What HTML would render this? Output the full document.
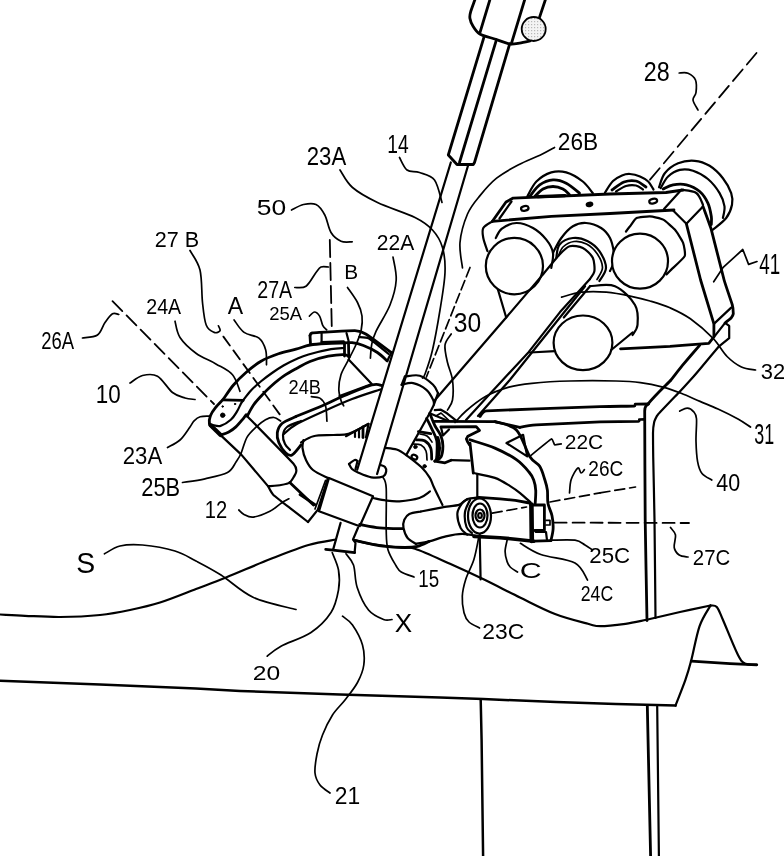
<!DOCTYPE html>
<html lang="en">
<head>
<meta charset="utf-8">
<title>Patent figure</title>
<style>
html,body{margin:0;padding:0;background:#fff;}
body{width:784px;height:856px;overflow:hidden;}
svg{display:block;filter:grayscale(1);}
path,ellipse,circle{fill:none;stroke:#000;stroke-linecap:round;stroke-linejoin:round;}
.l{stroke-width:2.2;}
.t{stroke-width:1.7;}
.h{stroke-width:2.8;}
.w{fill:#fff;stroke-width:2.2;}
text{font-family:"Liberation Sans","DejaVu Sans",sans-serif;fill:#000;stroke:none;}
</style>
</head>
<body>
<svg width="784" height="856" viewBox="0 0 784 856">
<rect width="784" height="856" fill="#fff" stroke="none"/>
<path class="l" d="M0 614.5 C4.2 614.7 15 615.4 25 615.8 C35 616.2 47.5 617.1 60 617 C72.5 616.9 88.3 616.2 100 615 C111.7 613.8 120 612.1 130 610 C140 607.9 149 606 160 602.5 C171 599 185 593.2 196 589 C207 584.8 213.5 582.5 226 577.5 C238.5 572.5 257.2 564.2 271 558.8 C284.8 553.4 297.7 548.2 308.5 545 C319.3 541.8 331.4 540.4 336 539.5"/>
<path class="l" d="M354 540 C356.7 540.6 362.3 542.5 370 543.8 C377.7 545 392.5 546.7 400 547.5 C407.5 548.3 406.7 546.1 415 548.8 C423.3 551.5 438.8 558.8 450 563.8 C461.2 568.8 470.8 573.2 482.5 578.8 C494.2 584.4 507.9 591.6 520 597.5 C532.1 603.4 543.7 609.6 555 614 C566.3 618.4 580.4 621.8 588 623.8 C595.6 625.8 594.2 626.2 600.5 626.2 C606.8 626.2 618 624.8 625.5 623.8 C633 622.8 642.2 620.6 645.5 620"/>
<path class="l" d="M645.5 620 C651.2 618.7 669.2 614.4 680 612 C690.8 609.6 705.4 606.6 710.5 605.5"/>
<path class="l" d="M710.5 605.5 C711.5 605.8 714.7 604.6 716.8 607 C718.9 609.4 719.5 612 723 620 C726.5 628 734.2 647.7 738 655 C741.8 662.3 742.4 662.2 745.5 663.8 C748.6 665.4 754.9 664.4 756.8 664.5"/>
<path d="M0 680.7 L100 684.5 L196 688.5 L240 691 L340 694.6 L440 697.6 L483.1 699.1 L556.1 702.1 L615.8 704.1 L675.5 705.6" style="stroke-width:2.5"/>
<path class="l" d="M710.5 605.5 C708.7 609 702.7 617.1 699.5 626.3 C696.3 635.5 693.6 651.6 691.2 660.5 C688.9 669.4 688 672.4 685.4 679.9 C682.8 687.4 677.1 701.3 675.5 705.6"/>
<path class="h" d="M691.2 661.2 L730 663.6 L756.8 664.8"/>
<path d="M480.7 699.8 L481.6 740 L483.1 856" style="stroke-width:2.5"/>
<path class="h" d="M647.3 705.4 L648.5 760 L650.6 856"/>
<path class="l" d="M657.2 706.4 L658.9 856"/>
<path class="h" d="M699.6 345.3 C698.7 346.3 683.6 364 682.2 365.7 C680.8 367.4 671.9 378.9 671 380 C670.1 381.1 665.1 385.9 663.9 387.1 C662.7 388.3 648.6 403.3 647.6 404.5 C646.6 405.7 644.8 405.2 644.7 411 C644.6 416.8 645.1 509.5 645.2 520 C645.3 530.5 646.9 615.5 647 620.5"/>
<path class="l" d="M719 346.3 C718.2 347.3 704.1 364 702.7 365.7 C701.3 367.4 691.6 378.7 690.4 380 C689.2 381.3 680.8 390.5 679.2 392.2 C677.6 393.9 659 413.2 657.8 414.7 C656.5 416.2 654.4 421.1 654.2 422 C654 422.9 653 431.3 653 433 C653 434.7 653.1 452.1 653.2 456.5 C653.3 460.9 654.4 511.9 654.5 520 C654.6 528.1 655.5 613.1 655.5 618"/>
<path class="h" d="M474.8 0 C474.3 1.5 471.4 9.2 470.7 11.6 C470 14 469.6 16.2 469.9 18.2 C470.2 20.2 471.9 24.4 473.2 26.5 C474.5 28.6 476.9 32.3 479.8 34 C482.7 35.7 490.7 37.7 494.7 39 C498.7 40.3 506.4 43.4 509.7 43.9 C513 44.4 516.9 43.5 519.6 43.1 C522.3 42.7 528.6 41.3 530 41"/>
<path class="h" d="M489.8 0 L479.8 33.2"/>
<path class="h" d="M524.6 0 L511.3 43.9"/>
<path class="h" d="M545.3 0 L539.5 17.4"/>
<path class="h" d="M483.9 37.3 L448.3 155 L457 164.5 L473.3 164.5 L474.5 162.5 L509.7 43.9"/>
<path class="h" d="M496.4 39.8 L459.5 162.5"/>
<defs><pattern id="st" width="3" height="3" patternUnits="userSpaceOnUse"><rect width="3" height="3" fill="#f4f4f4" stroke="none"/><rect x="0" y="0" width="1.2" height="1.2" fill="#b8b8b8" stroke="none"/></pattern></defs><circle cx="533.7" cy="29" r="12" style="fill:url(#st);stroke-width:1.8"/>
<path class="l" d="M450.8 162.5 L357.2 469.8"/>
<path class="l" d="M468.2 165 L377.1 474"/>
<path fill="none" stroke="#000" stroke-width="1.8" stroke-dasharray="15 6.5" d="M756.5 53 L648.5 181.5"/>
<path fill="none" stroke="#000" stroke-width="1.8" stroke-dasharray="14 6" d="M112.5 301.2 L214 404"/>
<path fill="none" stroke="#000" stroke-width="1.8" stroke-dasharray="11 6" d="M223.4 336.6 L282.2 417.8"/>
<path fill="none" stroke="#000" stroke-width="1.8" stroke-dasharray="17 6" d="M329.8 240 L331.8 328"/>
<path fill="none" stroke="#000" stroke-width="1.8" stroke-dasharray="12 6" d="M554.6 522.6 L689 523"/>
<path fill="none" stroke="#000" stroke-width="1.7" stroke-dasharray="10 5" d="M600 492.9 L635.5 487"/>
<text x="643.8" y="80.5" font-size="27.9" textLength="25.9" lengthAdjust="spacingAndGlyphs">28</text>
<text x="306.8" y="165" font-size="25" textLength="39.4" lengthAdjust="spacingAndGlyphs">23A</text>
<text x="387.3" y="153" font-size="26.4" textLength="21.4" lengthAdjust="spacingAndGlyphs">14</text>
<text x="557.8" y="150" font-size="24.3" textLength="40.4" lengthAdjust="spacingAndGlyphs">26B</text>
<text x="256.8" y="215" font-size="21.4" textLength="29.4" lengthAdjust="spacingAndGlyphs">50</text>
<text x="154.8" y="247" font-size="21.4" textLength="44.4" lengthAdjust="spacingAndGlyphs">27 B</text>
<text x="376.8" y="250" font-size="21.4" textLength="37.4" lengthAdjust="spacingAndGlyphs">22A</text>
<text x="257.3" y="297.5" font-size="23.6" textLength="34.9" lengthAdjust="spacingAndGlyphs">27A</text>
<text x="344.3" y="279" font-size="20" textLength="13.9" lengthAdjust="spacingAndGlyphs">B</text>
<text x="146.3" y="314" font-size="21.4" textLength="34.9" lengthAdjust="spacingAndGlyphs">24A</text>
<text x="227.8" y="314" font-size="23.6" textLength="15.4" lengthAdjust="spacingAndGlyphs">A</text>
<text x="269.3" y="320" font-size="17.9" textLength="32.9" lengthAdjust="spacingAndGlyphs">25A</text>
<text x="41.3" y="349" font-size="24.3" textLength="32.9" lengthAdjust="spacingAndGlyphs">26A</text>
<text x="95.8" y="403" font-size="25.7" textLength="24.9" lengthAdjust="spacingAndGlyphs">10</text>
<text x="288.6" y="394" font-size="20" textLength="32.4" lengthAdjust="spacingAndGlyphs">24B</text>
<text x="453.8" y="332" font-size="27.1" textLength="27.4" lengthAdjust="spacingAndGlyphs">30</text>
<text x="759.3" y="274" font-size="28.6" textLength="20.9" lengthAdjust="spacingAndGlyphs">41</text>
<text x="760.8" y="379" font-size="21.4" textLength="24.4" lengthAdjust="spacingAndGlyphs">32</text>
<text x="754.3" y="444" font-size="28.6" textLength="19.9" lengthAdjust="spacingAndGlyphs">31</text>
<text x="716.3" y="491" font-size="24.3" textLength="23.9" lengthAdjust="spacingAndGlyphs">40</text>
<text x="564.8" y="449" font-size="19.3" textLength="38.4" lengthAdjust="spacingAndGlyphs">22C</text>
<text x="588.3" y="475.5" font-size="21.4" textLength="34.9" lengthAdjust="spacingAndGlyphs">26C</text>
<text x="692.8" y="565" font-size="21.4" textLength="37.4" lengthAdjust="spacingAndGlyphs">27C</text>
<text x="589.3" y="562.5" font-size="21.4" textLength="40.9" lengthAdjust="spacingAndGlyphs">25C</text>
<text x="580.8" y="600.5" font-size="21.4" textLength="32.4" lengthAdjust="spacingAndGlyphs">24C</text>
<text x="519.8" y="578" font-size="21.4" textLength="21.9" lengthAdjust="spacingAndGlyphs">C</text>
<text x="482.3" y="639" font-size="22.9" textLength="41.9" lengthAdjust="spacingAndGlyphs">23C</text>
<text x="418.3" y="587" font-size="23.6" textLength="20.9" lengthAdjust="spacingAndGlyphs">15</text>
<text x="394.8" y="632" font-size="25.7" textLength="17.4" lengthAdjust="spacingAndGlyphs">X</text>
<text x="252.8" y="679.5" font-size="20.7" textLength="27.4" lengthAdjust="spacingAndGlyphs">20</text>
<text x="334.8" y="804" font-size="24.3" textLength="25.4" lengthAdjust="spacingAndGlyphs">21</text>
<text x="76.3" y="573" font-size="29.3" textLength="18.9" lengthAdjust="spacingAndGlyphs">S</text>
<text x="204.8" y="517.5" font-size="23.6" textLength="22.4" lengthAdjust="spacingAndGlyphs">12</text>
<text x="122.8" y="464" font-size="24.3" textLength="39.4" lengthAdjust="spacingAndGlyphs">23A</text>
<text x="141.3" y="495.5" font-size="25" textLength="38.9" lengthAdjust="spacingAndGlyphs">25B</text>
<path class="t" d="M679.2 73 C680.7 73 685.3 72 688 73.2 C690.7 74.4 694.2 76.8 695.5 80 C696.8 83.2 696.4 89.2 696 92.5 C695.6 95.8 692.7 97.1 693 100 C693.3 102.9 697.2 108.3 698 110"/>
<path class="t" d="M340 170 C342.1 172.9 346.2 182.1 352.5 187.5 C358.8 192.9 367.1 197.5 377.5 202.5 C387.9 207.5 405.8 212.9 415 217.5 C424.2 222.1 427.9 225 432.5 230 C437.1 235 440.4 240.4 442.5 247.5 C444.6 254.6 445.4 262.1 445 272.5 C444.6 282.9 442.1 297.1 440 310 C437.9 322.9 435 339.3 432.5 350 C430 360.7 426.7 369.3 425 374 C423.3 378.7 422.9 377.3 422.5 378"/>
<path class="t" d="M291.5 210 C293.5 209.1 299.4 205.4 303.5 204.5 C307.6 203.6 312.4 202.8 316 204.5 C319.6 206.2 322.3 210.3 324.8 215 C327.3 219.7 328.3 228.1 331 232.5 C333.7 236.9 337.5 239.6 341 241.2 C344.5 242.8 350.3 241.7 352.2 241.8"/>
<path class="t" d="M294.8 287.5 C296.7 287.3 302.5 288.7 306 286.2 C309.5 283.7 313.5 275.7 316 272.5 C318.5 269.3 318.9 267.9 321 267 C323.1 266.1 327.2 267 328.5 267"/>
<path class="t" d="M347.5 287.5 C349.2 290 355.1 297.8 357.5 302.5 C359.9 307.2 361.4 311.4 362 316 C362.6 320.6 362.1 325.3 361.2 330 C360.2 334.7 358.5 338.9 356.3 344 C354.1 349.1 350.5 355.8 347.9 360.9 C345.3 366 342.4 370.2 340.9 374.9 C339.4 379.6 338.8 384.8 338.8 389 C338.8 393.2 340.1 397.4 340.9 400.2 C341.7 403 343.2 404.9 343.7 405.8"/>
<path class="t" d="M309.4 316.1 C310.2 315.4 312.8 312 314.5 312 C316.2 312 318.2 313.9 319.6 316.1 C321 318.3 321.5 323 322.7 325.3 C323.9 327.6 326 329.1 326.7 329.9"/>
<path class="t" d="M399.5 157.5 C400.8 159.6 403.7 167.5 407 170 C410.3 172.5 414.9 170.8 419.5 172.5 C424.1 174.2 430.8 175 434.5 180 C438.2 185 440.8 198.8 442 202.5"/>
<path class="t" d="M554.5 147.5 C552.3 148.7 547.5 151.6 541.4 154.5 C535.3 157.4 525.6 161.1 518.1 165 C510.6 168.9 503 173.1 496.6 178.2 C490.2 183.3 484.9 189.6 480 195.6 C475.1 201.6 470.8 206.2 467.5 214 C464.2 221.8 460.8 233.5 460 242.5 C459.2 251.5 462.1 263.8 462.5 268"/>
<path class="t" d="M190 250.5 C191.7 253.8 197.9 261.3 200 270 C202.1 278.7 201.5 293.3 202.5 302.5 C203.5 311.7 204.2 320 206.2 325 C208.1 330 211.9 331.4 214.2 332.4 C216.5 333.4 219.3 331.9 220 330.8 C220.7 329.7 218.7 326.6 218.4 325.8"/>
<path class="t" d="M175 321.2 C175.8 323.9 176.5 332.2 180 337.5 C183.5 342.8 190 348.8 196 353.2 C202 357.6 209.8 360.3 215.9 363.9 C222 367.5 228.5 370.1 232.5 374.7 C236.5 379.3 238.8 388.5 240 391.3"/>
<path class="t" d="M82.5 338 C85 337.5 93.8 337.6 97.5 335 C101.2 332.4 102.5 326 105 322.5 C107.5 319 110.2 315.1 112.5 313.8 C114.8 312.5 117.8 314.4 118.8 314.5"/>
<path class="t" d="M130 383 C132.1 381.8 137.9 376.6 142.5 375.5 C147.1 374.4 152.5 373.4 157.5 376.2 C162.5 379 167.9 388.9 172.5 392.5 C177.1 396.1 181.2 396.8 185 398 C188.8 399.2 193.3 399.2 195 399.5"/>
<path class="t" d="M234.1 320 C235.8 322.1 239.9 329.4 244.1 332.4 C248.2 335.4 255.4 335.3 259 338.2 C262.6 341.1 264.4 345.5 265.7 349.9 C266.9 354.3 266.4 362.3 266.5 364.8"/>
<path class="t" d="M393 257 C393.5 260.8 396.7 272 396.2 280 C395.7 288 393.4 296.4 390 305 C386.6 313.6 379 324.9 376 331.4 C373 337.9 372.7 339.6 371.8 344 C370.9 348.4 370.6 355.8 370.4 358.1"/>
<path class="t" d="M713.7 281.8 L722.9 267.7 L742.8 249.5 L748.6 264.4 L757 261.5"/>
<path class="t" d="M455 422.5 C456.8 420.6 460.9 415.4 466 411 C471.1 406.6 478.8 400.3 485.9 396.3 C493 392.3 501.2 389.3 508.9 387.1 C516.5 384.9 521.6 384.3 531.8 383.3 C542 382.3 556 381.4 570 381 C584 380.6 604.3 380.7 616 381 C627.7 381.3 632.6 381.6 640.4 382.6 C648.2 383.6 656.1 385.3 662.9 387.1 C669.7 388.9 675 390.9 681.2 393.3 C687.4 395.7 693.9 398.8 700 401.4 C706.1 404 711.7 406.1 718 409 C724.3 411.9 732.6 416 738 419 C743.4 422 748.4 425.7 750.5 427"/>
<path class="t" d="M561.6 297.2 C564.9 296.4 574 293 581.5 292.2 C589 291.4 598 291.5 606.3 292.2 C614.6 292.9 623.9 294.8 631.2 296.3 C638.5 297.8 643.5 299.1 650 301 C656.5 302.9 663.3 304.8 670 307.8 C676.7 310.8 683.2 313.7 690.4 318.8 C697.5 323.9 706.8 331.9 712.9 338.2 C719 344.5 722.4 351.7 727.1 356.5 C731.9 361.3 736.7 364.8 741.4 367 C746.1 369.2 753.1 369.5 755.5 370"/>
<path class="t" d="M679.7 411.1 C681 410.6 685 408 687.3 408.1 C689.6 408.2 692 409.8 693.5 411.6 C695 413.4 696.1 413.9 696.5 418.8 C696.9 423.7 695.8 434.1 696 441.2 C696.2 448.3 696.6 456.2 697.6 461.6 C698.6 467 699.6 470.4 702 473.5 C704.4 476.6 710.2 478.9 711.8 480"/>
<path class="t" d="M670.5 527.5 C671.3 528.8 674.9 531.7 675.5 535 C676.1 538.3 673.6 544.2 674.2 547.5 C674.8 550.8 676.9 553.4 679.2 555 C681.5 556.6 686.5 556.7 688 557"/>
<path class="t" d="M104.5 553.8 C107.1 552.5 113.7 547.5 120 546 C126.3 544.5 133.3 544.2 142.5 545 C151.7 545.8 166.1 548.3 175 551 C183.9 553.7 188.3 557 196 561 C203.7 565 211.4 568.9 221 575 C230.6 581.1 241 591.8 253.5 597.5 C266 603.2 288.9 607.5 296 609.5"/>
<path class="t" d="M332.2 552.5 C333.2 555.4 337.4 563.8 338.5 570 C339.6 576.2 339.8 582.9 338.5 590 C337.2 597.1 335.6 605.4 331 612.5 C326.4 619.6 319.3 626.9 311 632.5 C302.7 638.1 288.3 642.2 281 646.2 C273.7 650.2 269.5 654.5 267.2 656.2"/>
<path class="t" d="M346 553.8 C347.2 555.7 351.6 559.4 353.5 565 C355.4 570.6 354.7 580 357.2 587.5 C359.7 595 364.1 604.7 368.5 610 C372.9 615.3 379.6 617.9 383.5 619.5 C387.4 621.1 390.6 619.5 392 619.5"/>
<path class="t" d="M342.5 616.2 C344.2 617.7 349.2 620.2 352.5 625 C355.8 629.8 360.6 638.3 362.5 645 C364.4 651.7 364.6 658.8 363.8 665 C363 671.2 360.6 676.7 357.5 682.5 C354.4 688.3 349.2 694.6 345 700 C340.8 705.4 336.2 709.2 332.5 715 C328.8 720.8 325.1 728.5 322.5 735 C319.9 741.5 318.2 747.7 317 754 C315.8 760.3 314.5 767.8 315 773 C315.5 778.2 317.5 781.7 320 785 C322.5 788.3 328.3 791.7 330 793"/>
<path class="t" d="M238.8 510 C239.7 510.8 241.6 513.3 244 514.5 C246.4 515.7 249 517.6 253.3 517.1 C257.6 516.6 265.2 513.6 269.9 511.3 C274.6 508.9 278.3 505.1 281.5 503 C284.7 500.9 287.7 499.5 288.9 498.8"/>
<path class="t" d="M383 477.3 C383.5 479.1 385.7 479.3 386.2 488 C386.7 496.7 385.9 519.3 386.2 529.5 C386.5 539.7 386.2 543.3 387.9 549.4 C389.6 555.5 394 562.2 396.2 566 C398.4 569.8 398.2 570.2 401.2 572 C404.2 573.8 411.9 576.2 414 577"/>
<path class="l" d="M527.3 196.5 C528.8 194 532.4 185.5 536.4 181.5 C540.4 177.5 546.3 173.9 551.3 172.4 C556.3 170.9 561 170.9 566.2 172.4 C571.5 173.9 578.4 178.1 582.8 181.5 C587.2 184.9 591.1 191.2 592.8 193.1"/>
<path class="h" d="M534.7 196.5 C536.1 195.2 540 190.7 543 189 C546 187.3 549.7 186.5 553 186.5 C556.3 186.5 560.1 187.6 562.9 189 C565.7 190.4 568.5 193.8 569.6 194.8"/>
<path d="M538 196.6 L565 195.6" style="stroke-width:3.4"/>
<path class="h" d="M529.7 196.5 C531.4 194.6 535.8 187.7 539.7 184.9 C543.6 182.1 548.6 180.2 553 179.9 C557.4 179.6 561.8 181 566.2 183.2 C570.6 185.4 577.3 191.4 579.5 193.1"/>
<path class="l" d="M605 192.5 C606.3 190.6 610.2 183.8 613 181 C615.8 178.2 619.2 176.7 622 175.5 C624.8 174.3 627 173.8 630 174 C633 174.2 637 175.2 640 176.5 C643 177.8 646 179.3 648.2 181.5 C650.5 183.7 652.6 188.2 653.5 189.5"/>
<path class="h" d="M612 190 C614 188.7 620 183.5 624 182 C628 180.5 632.3 180.2 636 181 C639.7 181.8 644.3 186 646 187"/>
<path class="l" d="M616 191.5 C617.7 190.6 622.7 187 626 186 C629.3 185 633.2 184.9 636 185.5 C638.8 186.1 641.8 188.8 643 189.5"/>
<path class="l" d="M659 187.3 C660 185 661.6 177.2 664.8 173.2 C668 169.2 673.1 165.4 678.1 163.3 C683.1 161.2 689.5 160.4 694.7 160.8 C700 161.2 704.9 162.9 709.6 165.8 C714.3 168.7 719.3 173.6 722.9 178.2 C726.5 182.8 729.7 188.7 731.2 193.1 C732.7 197.5 732.8 200.5 732 204.7 C731.2 208.8 729.4 213.8 726.2 218 C723 222.2 715.1 227.7 712.9 229.6"/>
<path class="l" d="M660.7 188.1 C661.9 186.2 664.9 179.5 668.1 176.5 C671.3 173.5 675.6 170.9 679.8 169.9 C683.9 168.9 688.3 169.2 693 170.7 C697.7 172.2 703.5 175.3 707.9 179 C712.3 182.7 716.8 188.5 719.6 193.1 C722.4 197.7 724 202.2 724.5 206.4 C725 210.6 723.2 216.1 722.9 218"/>
<path class="h" d="M663.2 189 C664.9 188.3 669.2 185.5 673.1 184.8 C677 184.1 682 183.7 686.4 184.8 C690.8 185.9 696.1 188.4 699.7 191.5 C703.3 194.6 706 199 707.9 203.1 C709.8 207.2 710.7 212.7 711.3 216.3 C711.9 219.9 711.3 223.2 711.3 224.6"/>
<path class="l" d="M681.4 189.8 C683.9 190.3 692.7 190.5 696.3 193 C699.9 195.5 701.9 202.8 703 204.7"/>
<path class="h" d="M492.4 221.3 L506 202 L513.2 198.1 L610 194 L666 192.5 L683 190"/>
<path class="l" d="M499.5 218.5 L511.5 201.5"/>
<path class="h" d="M492.4 221.3 L551.3 216.4 L610 213.5 L674 210"/>
<path class="l" d="M681.4 189.8 L664 208.9"/>
<ellipse class="l" cx="524.8" cy="208.4" rx="3.8" ry="2.3" transform="rotate(-12 524.8 208.4)"/>
<ellipse class="l" cx="589.5" cy="204.4" rx="2.8" ry="1.7" transform="rotate(-12 589.5 204.4)" style="fill:#000"/>
<ellipse class="l" cx="653.2" cy="201.1" rx="4" ry="2.3" transform="rotate(-12 653.2 201.1)"/>
<path class="l" d="M492.4 221.3 C490.9 222.4 484.8 225.2 483.3 228 C481.8 230.8 482.6 234.1 483.3 238 C484 241.9 486.8 249 487.5 251.2"/>
<path class="l" d="M496.2 283.8 L506.2 317.5"/>
<path class="l" d="M673.1 210.5 L686.4 223.8 L703 206.4"/>
<path class="h" d="M686.4 223.8 L700.6 280 L713.9 323.9 L713.9 337.1"/>
<path class="h" d="M703 206.4 C703.4 207.6 710.2 225.9 711.3 229.6 C712.4 233.3 723.1 276.3 724.1 280 C725.1 283.7 731.7 302.8 732.2 304.5 C732.7 306.2 733.3 313 733.3 313.7 C733.2 314.4 731.6 317.3 731.2 317.8 C730.8 318.3 725.4 322.6 725.1 322.9"/>
<path class="l" d="M713.9 323.9 L731.2 307.6"/>
<path class="l" d="M713.9 337.1 L725.1 322.9 L729.2 325.9 L729.2 338.2 L719 346.3"/>
<path class="h" d="M620.5 348.8 L670 346.3 L682.2 345.3 L708.8 343.3 L712.9 338.2"/>
<ellipse class="w" cx="514.4" cy="266.1" rx="28.6" ry="28.2"/>
<path class="l" d="M495.8 238 C496.8 236.5 498.2 231.3 501.6 228.8 C505.1 226.3 511.3 223.1 516.5 223 C521.7 222.9 528 225.2 533 228 C538 230.8 543 235.5 546.3 239.6 C549.6 243.7 552.2 248.1 553 252.8 C553.8 257.5 551.6 265.3 551.3 267.8"/>
<path class="l" d="M553 252.8 C554.4 250.3 558 242.4 561.3 238 C564.6 233.6 568.8 228.8 572.9 226.3 C577 223.8 581.4 222.7 586.1 223 C590.8 223.3 597.1 225.5 601.1 228 C605.1 230.5 607.9 234 610 238 C612.1 242 613.2 248 613.8 252 C614.4 256 614.4 258.8 613.8 262 C613.2 265.2 610.6 269.5 610 271"/>
<path class="l" d="M556.3 257.8 C556.8 255.6 556.8 247.8 559.6 244.5 C562.4 241.2 568.2 238.6 572.9 238 C577.6 237.4 583.4 239 587.8 241.2 C592.2 243.4 596.4 246.8 599.4 251.2 C602.4 255.6 606 262.8 606 267.8 C606 272.8 600.5 278.8 599.4 281"/>
<path class="t" d="M558.5 256 C559.2 254.5 560.4 249.4 563 247 C565.6 244.6 570.1 242 574 241.5 C577.9 241 582.7 242 586.5 244 C590.3 246 594.3 249.6 597 253.5 C599.7 257.4 602.5 263.2 602.5 267.5 C602.5 271.8 597.9 277.5 597 279.5"/>
<path class="l" d="M543 274.4 C545.2 271.7 556.1 258.3 559.6 254.5 C563.1 250.7 566.5 247.1 569.6 246.2 C572.7 245.3 579.7 246.4 582.8 247.9 C585.9 249.4 591.3 254.7 592.8 257.8 C594.3 260.9 594.8 268.3 594.4 271.1 C594 273.9 590.6 277.9 590 279"/>
<path class="l" d="M543 274.4 L506.2 317.5 L435 400"/>
<path class="l" d="M590 279 L560 312.1 L528.8 351.9 L490.5 393.3 L466 420"/>
<path class="l" d="M585 286.2 L510 379.8 L478 416"/>
<ellipse class="w" cx="640" cy="261.2" rx="28" ry="27.5"/>
<path class="l" d="M626 231.5 C626.3 231.1 629.1 227.4 630 226.3 C630.9 225.2 634.9 218.8 636.6 218 C638.3 217.2 647.7 216.2 649.9 216.3 C652.1 216.4 661.1 218.5 663.2 219.6 C665.3 220.7 673.1 227.7 674.8 229.6 C676.5 231.5 682.3 240.7 683.1 242.9 C683.9 245.1 685.7 253.9 684.7 256.1 C683.7 258.3 673 267.9 671.5 269.4 C670 270.9 666.9 274 666.5 274.4"/>
<ellipse class="w" cx="583" cy="342.8" rx="29.4" ry="27.3"/>
<path class="l" d="M530 352.5 L555 351.2"/>
<path class="l" d="M563.8 317.5 L590 286.2"/>
<path class="l" d="M590 286.2 C594.2 286.2 607.5 283.1 615 286.2 C622.5 289.3 631.2 298.5 635 305 C638.8 311.5 637.9 320 637.5 325 C637.1 330 633.3 333.3 632.5 335"/>
<path class="l" d="M611.2 350 L632.5 332.5"/>
<path class="h" d="M223.5 398.8 C225.2 396.5 229.8 389.4 233.5 385 C237.2 380.6 241.4 376.5 246 372.5 C250.6 368.5 255.6 364.3 261 361.2 C266.4 358.1 272.7 355.8 278.5 353.8 C284.3 351.8 290.8 350.7 296 349.2 C301.2 347.7 305 345.9 310 345 C315 344.1 320.4 343.8 326 343.5 C331.6 343.2 339.3 343.1 343.7 343 C348.1 342.9 348.8 342.3 352.1 342.7 C355.4 343.1 359.2 343.9 363.4 345.5 C367.6 347.1 373.4 349.9 377.4 352.5 C381.4 355.1 385.6 359.5 387.2 360.9"/>
<path class="l" d="M243.1 400.4 C244.4 398.7 248.1 393.4 251.2 390.2 C254.2 387 257.9 383.9 261.4 381 C264.9 378.1 268.3 375.6 272 373 C275.7 370.4 279.5 367.8 283.5 365.5 C287.5 363.2 291.8 361 296 359.2 C300.2 357.4 302.7 356.2 308.5 354.5 C314.3 352.8 325.1 350.3 331 349.2 C336.9 348.1 341.8 348.2 344 348"/>
<path class="h" d="M247.2 416.2 C248.2 414.3 251.2 408.3 253.5 405 C255.8 401.7 258.1 399.3 261 396.2 C263.9 393.1 267.2 389.5 271 386.2 C274.8 382.9 279.3 379.1 283.5 376.2 C287.7 373.3 291.6 371.2 296 368.8 C300.4 366.4 304.6 363.6 310 361.5 C315.4 359.4 322.7 357.3 328.3 356.2 C333.9 355.1 340.2 354.5 343.7 354.6 C347.2 354.7 348.4 356.4 349.3 356.7"/>
<path class="h" d="M222.7 399.9 C221.5 401.2 217.6 405 215.5 407.6 C213.4 410.2 211.4 413 210.4 415.7 C209.4 418.4 209.1 422 209.4 423.9 C209.7 425.8 211.9 426.4 212.4 426.9"/>
<path class="h" d="M220.6 435.1 C222 434.6 226.2 433.4 228.8 432 C231.4 430.6 233.5 429.1 235.9 426.9 C238.3 424.7 241.4 420.8 243.1 418.8 C244.8 416.8 245.6 415.4 246.1 414.7"/>
<path d="M210.4 424.9 L220.6 435.1" style="stroke-width:4.2"/>
<path class="h" d="M222.7 399.9 L243.1 400.4"/>
<path class="l" d="M212.4 424.9 C213.8 425.1 217.5 426.8 220.6 425.9 C223.7 425 228.1 422.2 230.8 419.8 C233.5 417.4 235.2 414.3 236.9 411.6 C238.6 408.9 240 405.4 241 403.5 C242 401.6 242.8 400.9 243.1 400.4"/>
<circle cx="222.7" cy="415.2" r="2.2" style="fill:#000"/>
<circle cx="222.7" cy="406.5" r="0.8" style="fill:#000"/>
<circle cx="235" cy="404" r="0.7" style="fill:#000"/>
<path class="h" d="M310 335.6 C310.2 335.4 309.8 333.1 312.8 332.8 C315.8 332.5 351.3 330.6 354.9 330.7 C358.5 330.8 363.8 332.7 366.2 334.2 C368.6 335.7 389.7 351.3 391.4 352.5"/>
<path class="l" d="M359.1 337 C359.9 337.1 366.5 337.1 369 338.5 C371.5 339.9 387 352.6 388.6 353.9"/>
<path class="h" d="M310 335.6 L310.5 344"/>
<path class="l" d="M321.5 342 L343.7 341.3"/>
<path class="l" d="M321.6 333 L321.6 342"/>
<path class="h" d="M344.5 342.7 L344.5 356"/>
<path class="h" d="M348.5 342.7 L348.8 357"/>
<path class="l" d="M346.5 333 L348.6 341"/>
<path class="l" d="M391.4 352.5 L387.2 360.9"/>
<path class="l" d="M348.6 359.5 L371.8 384 L339.5 396"/>
<path class="l" d="M212 427 L220.6 435.1 L241.3 454.6 L268.2 486.4"/>
<path class="l" d="M268.2 486.4 C268.7 487.2 271 492.6 273.2 494.7 C275.4 496.8 286.3 505.2 289.8 507.9 C293.3 510.6 306.2 520.6 308 522"/>
<path class="l" d="M247.2 416.2 C251.1 420.2 289.4 459.1 293.5 463.8 C297.6 468.5 296.3 470.9 296 472.5 C295.7 474.1 291.1 481.5 289.8 482.5 C288.6 483.5 282.8 484.7 281 485 C279.2 485.3 269.5 486.1 268.5 486.2"/>
<path class="h" d="M289.8 482.5 L313.5 505"/>
<path class="h" d="M296 416.5 C300.7 414.6 316.3 408.3 324 405 C331.7 401.7 334.3 399.8 342.3 396.5 C350.3 393.2 365.2 386.8 371.8 385 C378.4 383.2 380 385.4 381.6 385.5"/>
<path class="l" d="M284 434 C286 432.4 289.1 428.4 296 424.5 C302.9 420.6 316.1 414.8 325.5 410.5 C334.9 406.2 343 402.5 352.1 399 C361.2 395.5 375.5 391.1 380.2 389.5"/>
<path class="h" d="M296 416.5 C293.7 417.7 285.1 420.8 282 423.5 C278.9 426.2 277.8 429.6 277.3 432.8 C276.8 436 277.5 439.4 278.9 442.7 C280.3 446 283.3 450.6 285.5 452.7 C287.7 454.8 289.4 456.3 292 455 C294.6 453.7 299.5 446.7 301 445"/>
<path class="l" d="M301 421 C298.7 422 290 424.7 287 427 C284 429.3 283.3 432.2 283 435 C282.7 437.8 283.8 441.5 285 444 C286.2 446.5 289.2 449 290 450"/>
<path class="l" d="M301 442.5 C303.1 441.4 308.1 437.4 313.5 436.2 C318.9 434.9 327.7 435.4 333.5 435 C339.3 434.6 342.7 435.6 348.5 433.8 C354.3 432 365.2 425.6 368.5 424"/>
<path class="l" d="M303.5 440 C303.3 441.3 302.1 444.7 302.5 448 C302.9 451.3 304.2 456.3 306 460 C307.8 463.7 309.3 467 313 470 C316.7 473 325.5 476.7 328 478"/>
<path class="l" d="M373 498 C375.2 498.4 381.6 499.9 386 500.5 C390.4 501.1 393.9 501.7 399.5 501.3 C405.1 500.9 414.3 499.6 419.4 498 C424.5 496.4 428.2 492.5 430 491.4"/>
<path class="l" d="M346 436.2 L368.5 423.8 L366 437.5"/>
<path class="l" d="M355 431.5 L355 437"/>
<path class="l" d="M359 429.5 L359 437.5"/>
<path class="h" d="M363 427 L363 437.5"/>
<path class="l" d="M349 464 C349.9 463.3 353.3 460.5 354.7 460 C356.1 459.5 357 460.8 357.5 461"/>
<path class="l" d="M349 464 C349.5 464.8 350.5 467.6 352 469 C353.5 470.4 354.8 471.1 358 472.5 C361.2 473.9 367.1 476.7 371.3 477.3 C375.5 477.9 380.5 477.4 383 476.4 C385.5 475.4 385.9 473.1 386.2 471.5 C386.5 469.9 385.9 468.1 385 467 C384.1 465.9 381.2 465.3 380.5 465"/>
<path class="l" d="M357.5 461 L355.5 469"/>
<path class="l" d="M329 478 L373 496.3 L359.7 526.2 L319 511.3 Z"/>
<path class="t" d="M325.5 480.5 L315 509"/>
<path class="h" d="M300 494.7 L315 504.6"/>
<path class="l" d="M308 522 L317.9 509.6 L327.9 478.1"/>
<path class="l" d="M340.6 522.9 L333.2 549.4"/>
<path class="l" d="M358 527.8 L353 539.5 L355.5 542.8 L354.7 551.9"/>
<path class="h" d="M325.7 549.4 L333.2 550.2 L354.7 552.7"/>
<path class="h" d="M359.7 524.5 C363 525 372.4 527.1 379.6 527.8 C386.8 528.5 398.9 528.6 402.8 528.7"/>
<path class="h" d="M354.7 540.3 C359.4 541.3 374.6 544.9 383 546.1 C391.4 547.3 399.2 547.5 405 547.5 C410.8 547.5 413.6 547.3 417.6 546.3 C421.6 545.3 427.3 542.2 429.2 541.4"/>
<path class="l" d="M420.9 511.5 C419 511.9 412.1 512.6 409.3 514 C406.5 515.4 405.3 517.5 404.3 519.8 C403.3 522.1 402.9 525 403.5 528 C404.1 531 405.5 535.4 407.6 538 C409.7 540.6 414.5 542.8 415.9 543.8"/>
<path class="l" d="M404.9 376.5 C407.4 376.4 415.1 374.3 419.8 375.7 C424.5 377.1 430.1 381.9 433.1 384.8 C436.1 387.7 437.2 391.7 438 393.1"/>
<path class="l" d="M401.6 384.8 C403.5 384.5 409.1 382.3 413.2 383.1 C417.3 383.9 423.1 387 426.4 389.8 C429.7 392.6 431.9 397.2 433.1 399.7 C434.4 402.2 433.8 403.9 433.9 404.7"/>
<path class="l" d="M404.9 376.5 L401.6 384.8"/>
<path class="l" d="M438 393.1 L433.9 404.7 L429.8 413 L406.2 455.1"/>
<path class="l" d="M385 447.8 C386.9 448.1 393.1 448.3 396.6 449.5 C400.1 450.7 402.1 452.1 406.2 455.1 C410.3 458.1 417.6 463.6 421.5 467.3 C425.4 471.1 427.6 474.3 429.7 477.6 C431.8 480.9 431.7 482.4 433.8 487 C435.9 491.6 441.1 502 442.5 505"/>
<path fill="none" stroke="#000" stroke-width="1.7" stroke-dasharray="10 4" d="M470 267.5 L426.4 377"/>
<path class="t" d="M451.2 334 C450.2 335.8 445.6 340.2 445 345 C444.4 349.8 446.2 356.7 447.5 362.5 C448.8 368.3 451.7 373.8 452.5 380 C453.3 386.2 453.3 395 452.5 400 C451.7 405 448.3 408.3 447.5 410"/>
<path class="h" d="M480 416.6 C480.2 416.4 482.6 411.1 486.6 410.8 C490.6 410.5 595.1 406.8 600 406.6 C604.9 406.4 633.1 406.1 634.3 406 C635.5 405.9 634.8 404.3 635.3 404.2 C635.8 404.1 648.2 404 648.6 404"/>
<path class="h" d="M519.8 427.4 C520.3 427.3 533.6 425.1 536.3 424.9 C539 424.7 596.6 421.9 600 421.8 C603.4 421.7 637.1 421.4 638.4 421.3 C639.7 421.2 639.2 419.6 639.4 419.5 C639.6 419.4 643.8 419.3 644 419.3"/>
<path class="h" d="M434.7 421.3 L494.9 421.6 L519.8 427.4"/>
<path class="h" d="M494.9 421.6 C498.5 423 510.6 424.1 516.4 429.9 C522.2 435.7 525.8 450.3 529.7 456.4 C533.6 462.5 537.2 462.4 539.7 466.3 C542.2 470.2 543.6 476 544.9 480 C546.2 484 546.9 486.3 547.4 490.2 C547.9 494.1 547.2 499.2 548 503.5 C548.8 507.8 551.1 511.5 552 515.7 C552.9 520 553.3 524.9 553.1 529 C552.9 533.1 551.4 538.3 551 540.2"/>
<path class="h" d="M470 439.8 C474.1 441.2 487.2 444.8 494.9 448.1 C502.6 451.4 510.7 455.7 516.4 459.7 C522.1 463.7 526.1 468.6 529 472 C531.9 475.4 532.6 477 533.7 480 C534.8 483 535.5 486.3 535.7 490.2 C536 494.1 535.3 501.3 535.2 503.5"/>
<path class="l" d="M473.3 473 C476.9 473.8 488.8 475.7 494.9 477.9 C501 480.1 505.9 483.5 510.2 486.1 C514.5 488.7 517 490.6 520.4 493.3 C523.8 496 528.9 500.9 530.6 502.4"/>
<path class="h" d="M470 443.1 L473.3 473"/>
<path class="l" d="M477.3 474.6 L477.3 497.4"/>
<path class="l" d="M506.5 443.1 L523.1 434.8 L527.2 456.4 Z"/>
<path class="h" d="M440.9 427 L476.2 426.6 L479.5 430.4 L467.9 436.2 L466.4 439 L467.4 441.5 L469.6 445"/>
<path class="l" d="M441 427.5 L443 435.5 L449 429.5"/>
<path class="l" d="M451.1 460.2 L469.5 460.7"/>
<path class="h" d="M478.9 497.4 L500 498.9 L515.3 500.4 L529.6 503"/>
<path class="h" d="M530.6 505 L544.4 505 L544.4 530.5 L534.7 530.5"/>
<path class="l" d="M535.7 532 L546 532 L547 540.2"/>
<path class="t" d="M546 520.3 L550 520.3 L550 525 L546 525"/>
<path d="M531.4 504.5 L531.8 541" style="stroke-width:4.6"/>
<path class="h" d="M533.7 541.2 L551 540.7"/>
<ellipse class="w" cx="479.5" cy="516" rx="11.5" ry="17.5"/>
<ellipse class="l" cx="480" cy="515.5" rx="7.5" ry="12"/>
<ellipse class="l" cx="480" cy="515.5" rx="4.5" ry="6"/>
<ellipse class="l" cx="480" cy="515.5" rx="1.8" ry="2.5"/>
<path class="l" d="M467 499.5 C466.2 500.1 463.9 500.7 462.3 503 C460.7 505.3 457.7 509 457.4 513.2 C457.1 517.4 459 524.5 460.7 528.1 C462.4 531.7 466.2 533.6 467.3 534.7"/>
<path class="l" d="M470 500 C469.2 502 465.6 507.5 465 512 C464.4 516.5 465.3 523.5 466.5 527 C467.7 530.5 471.1 532 472 533"/>
<path class="l" d="M420.9 511.5 C423 511.1 438.6 508.1 442.4 507.4 C446.2 506.7 456.5 505.7 459 504.9 C461.5 504.1 465.3 499.9 467.3 499.1 C469.3 498.4 477.7 497.6 478.9 497.4"/>
<path class="l" d="M415.9 543.8 C418.1 543.4 424.2 542.6 429.2 541.4 C434.2 540.2 440.3 537.6 445.8 536.4 C451.3 535.1 456.8 533.9 462.3 533.9 C467.8 533.9 476.1 536 478.9 536.4"/>
<path d="M474 536.4 L500 537.7 L515.3 539.2 L533.7 541.2" style="stroke-width:3.6"/>
<path class="l" d="M479.7 534 L480.6 579.5"/>
<path class="t" d="M529.7 456.4 C530.8 455.5 550.1 439.6 551.3 439 C552.5 438.4 554.1 444.6 554.6 444.8 C555.1 445 560.9 443.9 561.2 443.9"/>
<path class="t" d="M569.5 492.9 C569.8 490.7 569.8 483.8 571.2 479.6 C572.6 475.5 576.1 469.1 577.8 468 C579.4 466.9 580 472.7 581.1 473 C582.2 473.3 583.9 470.2 584.4 469.7"/>
<path class="t" d="M551 540.2 C555 540.2 569.3 539.4 575 540.2 C580.7 541 582.1 543.4 585 545 C587.9 546.6 591.2 549.2 592.5 550"/>
<path class="t" d="M520.4 543.3 C523.8 545.2 531.7 551.2 540.8 554.5 C549.9 557.8 567.2 558.8 575 563 C582.8 567.2 585.4 577.2 587.5 580"/>
<path class="t" d="M507.1 540.2 C506.8 542.1 505.1 547.8 505.1 551.4 C505.1 555 506.2 559 507.1 561.6 C508 564.2 508.5 565.3 510.2 567 C511.9 568.7 516.3 571.2 517.5 572"/>
<path class="t" d="M478.9 536.4 C478.1 540.3 476.1 552.4 473.9 559.6 C471.7 566.8 467.6 573.4 465.7 579.5 C463.8 585.6 462.6 590.6 462.3 596.1 C462 601.6 462.9 608.4 464 612.7 C465.1 617 466.4 619.5 469 622 C471.6 624.5 477.8 627 479.5 628"/>
<path fill="none" stroke="#000" stroke-width="1.7" stroke-dasharray="10 5" d="M492.2 513.2 L526.5 507"/>
<path fill="none" stroke="#000" stroke-width="1.7" stroke-dasharray="10 5" d="M550 502 L600 492.9"/>
<path class="t" d="M311.4 396.7 C312.8 396.9 317.5 396.6 319.9 398.1 C322.2 399.6 324.3 402 325.5 405.8 C326.7 409.6 326.7 418.6 326.9 421.2"/>
<path class="h" d="M429.7 413.3 C430.6 415.3 432.9 421.8 434.8 425.5 C436.7 429.2 439.5 432.3 440.9 435.7 C442.2 439.1 442.9 442.3 442.9 445.9 C442.9 449.5 442.2 454.6 440.9 457.1 C439.5 459.7 435.8 460.5 434.8 461.2"/>
<path d="M437.5 438 C440 445 439.5 454 436.5 460" style="stroke-width:3.8"/>
<path class="h" d="M426.6 418.4 C427.5 420.1 430 424.9 431.7 428.6 C433.4 432.3 435.9 436.1 436.8 440.8 C437.7 445.6 436.8 454.4 436.8 457.1"/>
<path class="h" d="M416.4 439.8 C417.8 440 422.2 439.4 424.6 440.8 C427 442.2 429.5 444.9 430.7 448 C431.9 451.1 431.5 457.3 431.7 459.2"/>
<path class="t" d="M413 444 C414.3 444.2 418.8 443.8 421 445 C423.2 446.2 425 448.5 426 451 C427 453.5 426.8 458.5 427 460"/>
<path class="t" d="M420 434 C421.2 434.3 425 434.7 427 436 C429 437.3 431.2 441 432 442"/>
<path class="h" d="M418.4 431.6 L430.7 433.7"/>
<path class="l" d="M434.8 410.2 L440.9 409.7 L447 413.3 L457.2 421.4"/>
<path class="l" d="M429.7 413.3 L447 420.4"/>
<path class="t" d="M436 416 L441 413 L449 420.5"/>
<circle cx="415.4" cy="446.9" r="1.7" style="fill:#000"/>
<circle cx="424.6" cy="466.3" r="1.7" style="fill:#000"/>
<circle cx="439.5" cy="448" r="1.2" style="fill:#000"/>
<ellipse class="l" cx="414.4" cy="457.1" rx="3" ry="2.2" transform="rotate(30 414.4 457.1)"/>
<path class="h" d="M434.8 461.2 L445 462.8 L451.1 460.2"/>
<path class="t" d="M167.5 447.5 C169.6 446.2 176.2 443.4 180 440 C183.8 436.6 187.7 430.1 190 426.9 C192.3 423.7 192.4 422.5 194.1 420.8 C195.8 419.1 197.5 417.5 200.2 416.7 C202.9 415.9 208.7 416.3 210.4 416.2"/>
<path class="t" d="M182.5 482.5 C186.2 481.9 197.5 480.5 205 478.8 C212.5 477.1 222.3 475.3 227.5 472.5 C232.7 469.7 233.8 465.2 236 462 C238.2 458.8 239.2 457.6 241 453.5 C242.8 449.4 244.5 441.5 247.1 437.1 C249.7 432.7 253.2 429.8 256.3 426.9 C259.4 424 262.6 421.4 265.5 419.8 C268.4 418.2 271.5 417.3 274 417.5 C276.5 417.7 279.5 420.4 280.6 421"/>
</svg>
</body>
</html>
